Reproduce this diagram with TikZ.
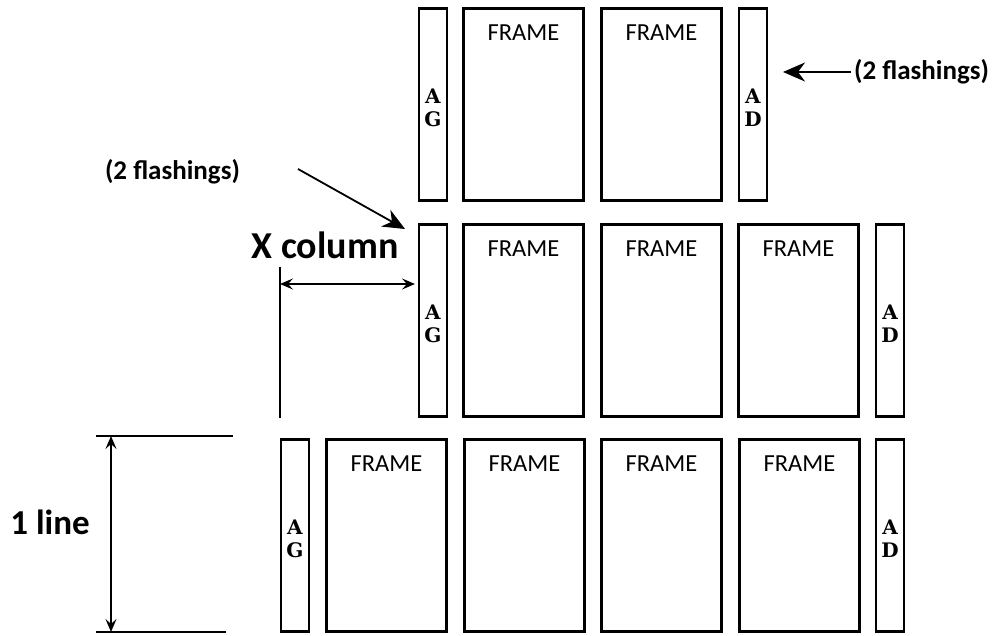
\documentclass[tikz,border=0pt]{standalone}
\usepackage{fontspec}
\setmainfont{Carlito}
\newfontfamily\stripfont{DejaVu Serif}[Scale=1.0]
\usetikzlibrary{arrows.meta}
\begin{document}
\begin{tikzpicture}[x=1pt,y=-1pt,
  framebox/.style={draw, line width=2.4pt, minimum width=120pt, minimum height=192pt, inner sep=0pt,
    label={[anchor=north, inner sep=0pt, yshift=-17pt, font=\fontsize{24.5}{28}\selectfont]north:FRAME}},
  stripbox/.style={draw, line width=2.4pt, minimum width=28pt, minimum height=192pt, inner sep=0pt},
  stripletter/.style={inner sep=0pt, font=\stripfont\bfseries\fontsize{20}{23}\selectfont},
  note/.style={font=\bfseries\fontsize{27}{30}\selectfont, inner sep=0pt},
  bignote/.style={font=\bfseries\fontsize{38}{42}\selectfont, inner sep=0pt},
  thin/.style={line width=1.4pt},
  bigarrow/.style={line width=1.8pt, -{Stealth[length=22pt,width=19pt,inset=7pt]}},
  dimarrow/.style={line width=1.4pt, {Stealth[length=13pt,width=11pt,inset=5pt]}-{Stealth[length=13pt,width=11pt,inset=5pt]}}
]
\useasboundingbox (0,0) rectangle (999,636);
% top row
\node[stripbox] (tag) at (433,104.5) {};
\node[framebox] (tf1) at (523.5,104.5) {};
\node[framebox] (tf2) at (661.5,104.5) {};
\node[stripbox] (tad) at (753,104.5) {};
% middle row
\node[stripbox] (mag) at (433,320.5) {};
\node[framebox] (mf1) at (523.5,320.5) {};
\node[framebox] (mf2) at (661.5,320.5) {};
\node[framebox] (mf3) at (798.5,320.5) {};
\node[stripbox] (mad) at (890,320.5) {};
% bottom row
\node[stripbox] (bag) at (295,535.5) {};
\node[framebox] (bf1) at (386.5,535.5) {};
\node[framebox] (bf2) at (524.5,535.5) {};
\node[framebox] (bf3) at (661.5,535.5) {};
\node[framebox] (bf4) at (799.5,535.5) {};
\node[stripbox] (bad) at (890,535.5) {};
% strip letters
\foreach \s/\b in {tag/G, tad/D, mag/G, mad/D, bag/G, bad/D}{
  \node[stripletter] (\s-a) at ([yshift=8pt]\s.center) {A};
  \node[stripletter] (\s-b) at ([yshift=-15pt]\s.center) {\b};
}
% annotations
\node[note] (fr) at (921.5,72) {(2 flashings)};
\coordinate (frtip) at (783,72);
\draw[bigarrow] (fr.west) ++(-3,0) coordinate (frtail) -- (frtip);
\node[note] (fl) at (172.5,172) {(2 flashings)};
\coordinate (fltail) at (298,169);
\coordinate (fltip) at (405,229);
\draw[bigarrow] (fltail) -- (fltip);
\node[bignote] (xc) at (325,245) {X column};
\coordinate (xl) at (280,284);
\coordinate (xr) at (415,284);
\coordinate (xtop) at (280,267);
\coordinate (xbot) at (280,418);
\draw[thin] (xtop) -- (xbot);
\draw[dimarrow] (xl) -- (xr);
\node[bignote, font=\bfseries\fontsize{35}{40}\selectfont] (ln) at (50,522) {1 line};
\coordinate (lt1) at (96,436);
\coordinate (lt2) at (233,436);
\coordinate (lb1) at (96,632);
\coordinate (lb2) at (226,632);
\draw[thin] (lt1) -- (lt2);
\draw[thin] (lb1) -- (lb2);
\coordinate (vt) at (111,436);
\coordinate (vb) at (111,632);
\draw[dimarrow] (vt) -- (vb);
\end{tikzpicture}
\end{document}
